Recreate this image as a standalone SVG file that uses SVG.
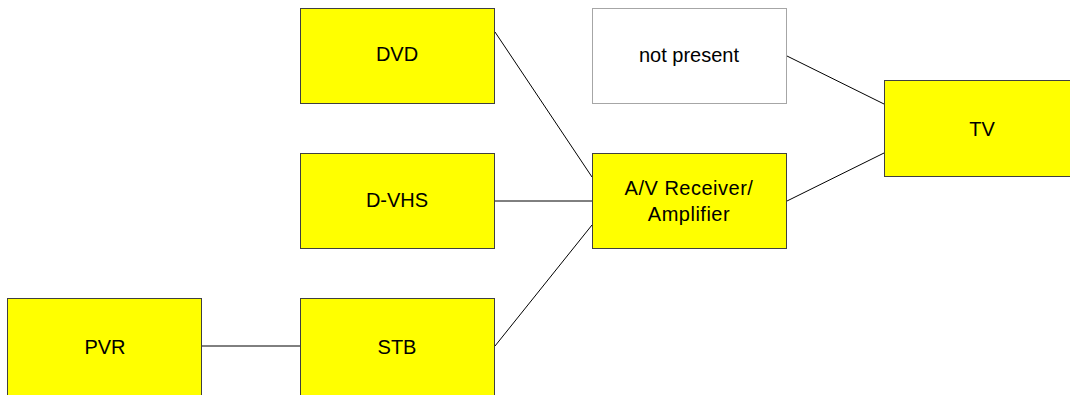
<svg xmlns="http://www.w3.org/2000/svg" width="1070" height="395" viewBox="0 0 1070 395">
<style>
.box{fill:#ffff00;stroke:#404040;stroke-width:1}
.empty{fill:#ffffff;stroke:#a6a6a6;stroke-width:1}
.lbl{font-family:"Liberation Sans",Arial,sans-serif;font-size:20px;fill:#000;text-anchor:middle}
.conn line{stroke:#000;stroke-width:1}
</style>
<rect width="1070" height="395" fill="#fff"/>
<g id="connectors" class="conn">
<line x1="495" y1="32" x2="592" y2="177"/>
<line x1="495" y1="201" x2="592" y2="201"/>
<line x1="495" y1="346" x2="592" y2="225"/>
<line x1="202" y1="346" x2="300" y2="346"/>
<line x1="787" y1="56" x2="884" y2="104"/>
<line x1="787" y1="201" x2="884" y2="153"/>
</g>
<g id="dvd"><rect class="box" x="300.5" y="8.5" width="194" height="95"/><text class="lbl" x="397" y="61">DVD</text></g>
<g id="notpresent"><rect class="empty" x="592.5" y="8.5" width="194" height="95"/><text class="lbl" x="689" y="62">not present</text></g>
<g id="tv"><rect class="box" x="884.5" y="80.5" width="194" height="96"/><text class="lbl" x="982" y="136">TV</text></g>
<g id="dvhs"><rect class="box" x="300.5" y="153.5" width="194" height="95"/><text class="lbl" x="397" y="207">D-VHS</text></g>
<g id="avr"><rect class="box" x="592.5" y="153.5" width="194" height="95"/><text class="lbl" x="689" y="195" letter-spacing="0.5">A/V Receiver/</text><text class="lbl" x="689" y="221" letter-spacing="0.5">Amplifier</text></g>
<g id="pvr"><rect class="box" x="7.5" y="298.5" width="194" height="100"/><text class="lbl" x="105" y="354">PVR</text></g>
<g id="stb"><rect class="box" x="300.5" y="298.5" width="194" height="100"/><text class="lbl" x="397" y="354">STB</text></g>
</svg>
